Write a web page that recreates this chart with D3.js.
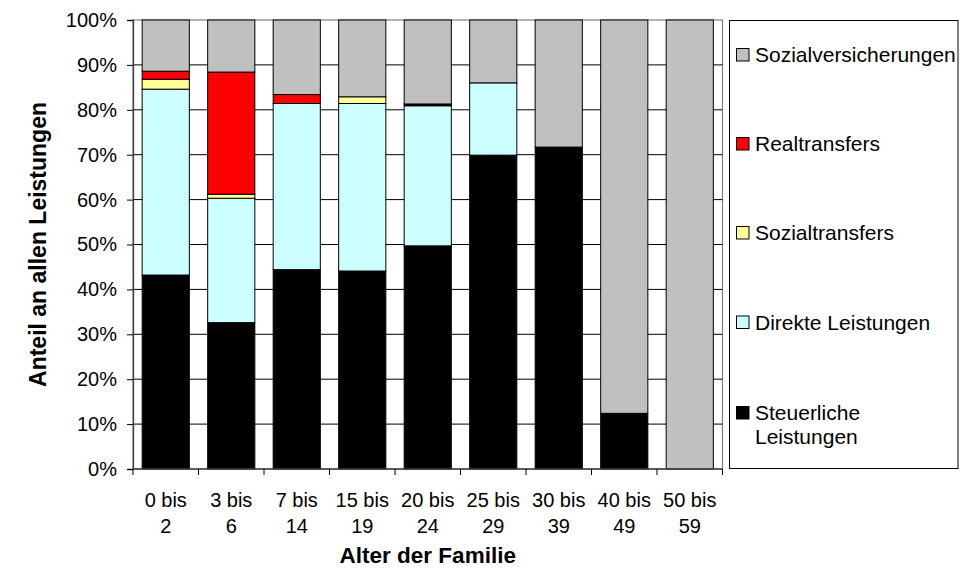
<!DOCTYPE html>
<html>
<head>
<meta charset="utf-8">
<script src="https://cdn.jsdelivr.net/npm/d3@7/dist/d3.min.js"></script>
<style>
  html, body { margin: 0; padding: 0; background: #fff; }
  svg { display: block; font-family: "Liberation Sans", Arial, sans-serif; }
</style>
</head>
<body>
<svg id="chart" width="960" height="568"></svg>
<script>
// ---- data ----
const categories = ["0 bis 2", "3 bis 6", "7 bis 14", "15 bis 19", "20 bis 24", "25 bis 29", "30 bis 39", "40 bis 49", "50 bis 59"];
const steuerliche = [43.2, 32.6, 44.4, 44.1, 49.7, 69.9, 71.7, 12.4, 0];
const direkte = [41.4, 27.7, 37.0, 37.3, 31.2, 16.1, 0, 0, 0];
const sozialtransfers = [2.2, 0.9, 0, 1.5, 0.2, 0, 0, 0, 0];
const realtransfers = [1.8, 27.2, 2.0, 0, 0.2, 0, 0, 0, 0];
const sozialversicherungen = [11.4, 11.6, 16.6, 17.1, 18.7, 14.0, 28.3, 87.6, 100];
const seriesNames = ["Steuerliche Leistungen", "Direkte Leistungen", "Sozialtransfers", "Realtransfers", "Sozialversicherungen"];
const seriesColors = ["#000000", "#ccffff", "#ffff99", "#ff0000", "#c0c0c0"];
const yTicks = [0, 10, 20, 30, 40, 50, 60, 70, 80, 90, 100];
const yTitle = "Anteil an allen Leistungen";
const xTitle = "Alter der Familie";

const seriesValues = [steuerliche, direkte, sozialtransfers, realtransfers, sozialversicherungen];
const table = categories.map((c, i) => {
  const row = { cat: c };
  seriesNames.forEach((n, j) => row[n] = seriesValues[j][i]);
  return row;
});

// ---- layout ----
const svg = d3.select("#chart");
const plot = { left: 133, right: 722.5, top: 20, bottom: 469 };

const x = d3.scaleBand().domain(categories).range([plot.left, plot.right]).paddingInner(0.28).paddingOuter(0.14);
const xOuter = d3.scaleBand().domain(categories).range([plot.left, plot.right]).padding(0);
const y = d3.scaleLinear().domain([0, 100]).range([plot.bottom, plot.top]);

const stack = d3.stack().keys(seriesNames);
const stacked = stack(table);

// plot area border (top/right)
svg.append("rect")
  .attr("x", plot.left).attr("y", plot.top)
  .attr("width", plot.right - plot.left).attr("height", plot.bottom - plot.top)
  .attr("fill", "none").attr("stroke", "#808080").attr("stroke-width", 1.2);

// gridlines
svg.append("g").selectAll("line").data(yTicks.filter(t => t > 0 && t < 100)).join("line")
  .attr("x1", plot.left).attr("x2", plot.right)
  .attr("y1", d => y(d)).attr("y2", d => y(d))
  .attr("stroke", "#000").attr("stroke-width", 1);

// bars
svg.append("g").selectAll("g").data(stacked).join("g")
  .attr("fill", (d, i) => seriesColors[i])
  .selectAll("rect").data(d => d.filter(s => s[1] - s[0] > 0)).join("rect")
  .attr("x", d => x(d.data.cat))
  .attr("width", x.bandwidth())
  .attr("y", d => y(d[1]))
  .attr("height", d => y(d[0]) - y(d[1]))
  .attr("stroke", "#000").attr("stroke-width", 1);

// y axis
const yAxis = d3.axisLeft(y).tickValues(yTicks).tickFormat(d => d + "%").tickSize(6).tickPadding(10);
const gy = svg.append("g").attr("transform", `translate(${plot.left},0)`).call(yAxis);
gy.select(".domain").attr("stroke", "#404040").attr("stroke-width", 1.3);
gy.selectAll(".tick line").attr("stroke", "#000");
gy.selectAll(".tick text").attr("font-size", 20).attr("fill", "#000")
  .attr("font-family", "'Liberation Sans', Arial, sans-serif");

// x axis (ticks at category boundaries)
const gx = svg.append("g").attr("transform", `translate(0,${plot.bottom})`);
gx.append("line").attr("x1", plot.left).attr("x2", plot.right).attr("stroke", "#404040").attr("stroke-width", 1.3);
const boundaries = categories.map(c => xOuter(c)).concat([plot.right]);
gx.selectAll("line.tk").data(boundaries).join("line").attr("class", "tk")
  .attr("x1", d => d).attr("x2", d => d).attr("y1", 0).attr("y2", 6).attr("stroke", "#000");
const lbl = gx.selectAll("text.lab").data(categories).join("text").attr("class", "lab")
  .attr("text-anchor", "middle").attr("font-size", 20).attr("fill", "#000")
  .attr("transform", d => `translate(${xOuter(d) + xOuter.bandwidth() / 2},0)`);
lbl.each(function (d) {
  const parts = d.split(" ");
  const t = d3.select(this);
  t.append("tspan").attr("x", 0).attr("y", 38).text(parts[0] + " " + parts[1]);
  t.append("tspan").attr("x", 0).attr("y", 64).text(parts[2]);
});

// axis titles
svg.append("text").attr("x", (plot.left + plot.right) / 2).attr("y", 563)
  .attr("text-anchor", "middle").attr("font-weight", "bold").attr("font-size", 22.5).text(xTitle);
svg.append("text").attr("transform", `translate(46,${(plot.top + plot.bottom) / 2}) rotate(-90)`)
  .attr("text-anchor", "middle").attr("font-weight", "bold").attr("font-size", 23).text(yTitle);

// legend
const legend = svg.append("g");
legend.append("rect").attr("x", 729.5).attr("y", 20.5).attr("width", 228.5).attr("height", 448)
  .attr("fill", "#fff").attr("stroke", "#000").attr("stroke-width", 1);
const legendOrder = [4, 3, 2, 1, 0];
const legendY = [55, 144, 233, 322.5, 413];
legendOrder.forEach((si, k) => {
  const g = legend.append("g").attr("transform", `translate(736,${legendY[k]})`);
  g.append("rect").attr("x", 0.5).attr("y", -6.5).attr("width", 12.5).attr("height", 12.5)
    .attr("fill", seriesColors[si]).attr("stroke", "#000").attr("stroke-width", 1);
  const words = seriesNames[si] === "Steuerliche Leistungen" ? ["Steuerliche", "Leistungen"] : [seriesNames[si]];
  const t = g.append("text").attr("x", 19).attr("font-size", 21).attr("fill", "#000");
  words.forEach((w, i) => t.append("tspan").attr("x", 19).attr("y", 7 + i * 24).text(w));
});
</script>
</body>
</html>
